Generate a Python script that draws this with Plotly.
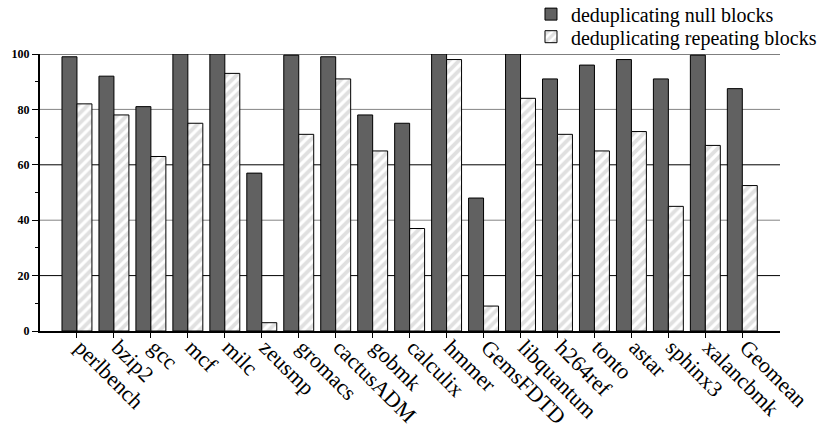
import plotly.graph_objects as go

benchmarks = ["perlbench", "bzip2", "gcc", "mcf", "milc", "zeusmp", "gromacs",
              "cactusADM", "gobmk", "calculix", "hmmer", "GemsFDTD", "libquantum",
              "h264ref", "tonto", "astar", "sphinx3", "xalancbmk", "Geomean"]
null_blocks = [99, 92, 81, 100, 100, 57, 99.6, 99, 78, 75, 100, 48, 100,
               91, 96, 98, 91, 99.6, 87.5]
repeating_blocks = [82, 78, 63, 75, 93, 3, 71, 91, 65, 37, 98, 9, 84,
                    71, 65, 72, 45, 67, 52.5]

y_ticks = [0, 20, 40, 60, 80, 100]
black_rules = [20, 60, 100]
gray_rules = [40, 80]

serif = "Liberation Serif, Times New Roman, serif"

fig = go.Figure()
fig.add_trace(go.Bar(
    x=benchmarks, y=null_blocks, name="deduplicating null blocks",
    marker=dict(color="#616161", line=dict(color="#000000", width=1)),
    legend="legend",
))
fig.add_trace(go.Bar(
    x=benchmarks, y=repeating_blocks, name="deduplicating repeating blocks",
    marker=dict(color="#ffffff", line=dict(color="#000000", width=1),
                pattern=dict(shape="/", fgcolor="#c2c2c2", bgcolor="#ffffff",
                             size=7, solidity=0.55)),
    legend="legend2",
))

# horizontal rules behind the bars, alternating black and gray
for v in black_rules:
    fig.add_shape(type="line", xref="paper", x0=0, x1=1, yref="y", y0=v, y1=v,
                  line=dict(color="#000000", width=1), layer="below")
for v in gray_rules:
    fig.add_shape(type="line", xref="paper", x0=0, x1=1, yref="y", y0=v, y1=v,
                  line=dict(color="#858585", width=1), layer="below")

legend_style = dict(xanchor="left", yanchor="middle",
                    font=dict(family=serif, size=20, color="#000"),
                    bgcolor="rgba(0,0,0,0)", itemwidth=30)

fig.update_layout(
    width=824, height=425,
    margin=dict(l=40, r=44, t=54, b=94, autoexpand=False),
    paper_bgcolor="white", plot_bgcolor="white",
    barmode="group", bargap=0.19, bargroupgap=0,
    showlegend=True,
    legend=dict(x=0.6635, y=1.144, **legend_style),
    legend2=dict(x=0.6635, y=1.0625, **legend_style),
    font=dict(family=serif, color="#000"),
)
fig.update_xaxes(
    range=[-1, 19.02], showline=True, linecolor="#000", linewidth=1.5,
    ticks="outside", ticklen=5, tickcolor="#000", tickangle=45,
    ticklabelstandoff=-12, ticklabelshift=4, automargin=False,
    tickfont=dict(family=serif, size=22, color="#000"), showgrid=False,
)
fig.update_yaxes(
    range=[0, 100], tickvals=y_ticks, showline=True, linecolor="#000",
    linewidth=2, ticks="outside", ticklen=6, tickcolor="#000", automargin=False,
    tickfont=dict(family=serif, size=12, color="#000", weight="bold"),
    showgrid=False, zeroline=False,
    minor=dict(dtick=10, ticks="outside", ticklen=3, tickcolor="#000", showgrid=False),
)

fig.write_html("out.html")
